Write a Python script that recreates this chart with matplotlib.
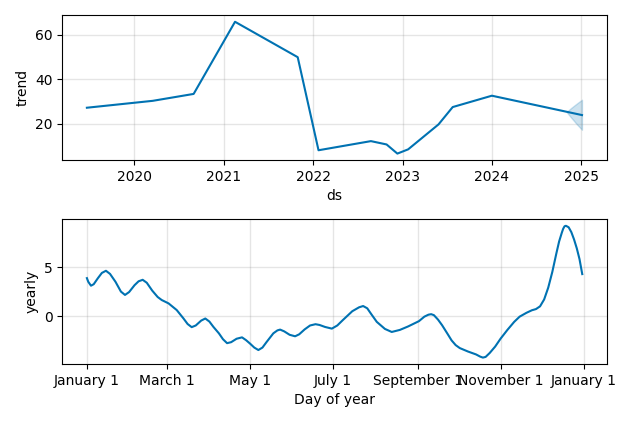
import numpy as np
import pandas as pd
import matplotlib
matplotlib.use('Agg')
import matplotlib.pyplot as plt
import matplotlib.dates as mdates

# trend component (changepoints)
trend_dates = ['2019-06-22', '2020-03-17', '2020-08-31', '2021-02-16', '2021-10-30',
               '2022-01-23', '2022-08-25', '2022-10-28', '2022-12-11', '2023-01-24',
               '2023-05-28', '2023-07-25', '2024-01-01', '2025-01-03']
trend_vals = [27.2, 30.3, 33.4, 65.8, 49.9,
              8.1, 12.2, 10.7, 6.6, 8.5,
              19.7, 27.5, 32.6, 23.9]

# forecast uncertainty of the trend
band_dates = ['2024-11-01', '2024-11-21', '2024-12-12', '2025-01-03']
band_upper = [25.3, 27.2, 29.0, 30.8]
band_lower = [25.3, 22.6, 19.9, 17.3]

# yearly seasonality (day of year -> value)
year_days = [0, 1, 3, 5, 8, 11, 14, 17, 21, 25, 28, 31, 35, 38, 41, 44, 48, 52,
             55, 60, 66, 71, 74, 77, 80, 84, 87, 90, 93, 97, 100, 103, 106, 110,
             114, 117, 120, 123, 126, 129, 132, 137, 140, 142, 145, 149, 153, 156,
             160, 164, 168, 171, 175, 180, 184, 188, 195, 200, 203, 206, 209, 213,
             219, 224, 230, 236, 244, 248, 251, 253, 255, 258, 261, 265, 268, 271,
             274, 280, 286, 289, 291, 293, 296, 300, 304, 309, 314, 318, 323, 327,
             330, 333, 336, 339, 342, 345, 347, 349, 350, 351, 352, 354, 356, 358,
             360, 362, 364]
yearly_vals = [3.87, 3.5, 3.1, 3.25, 3.85, 4.4, 4.62, 4.3, 3.5, 2.5, 2.16, 2.45,
               3.15, 3.55, 3.70, 3.4, 2.6, 1.95, 1.64, 1.30, 0.62, -0.24, -0.8,
               -1.12, -0.95, -0.45, -0.24, -0.55, -1.1, -1.75, -2.35, -2.75, -2.65,
               -2.3, -2.16, -2.45, -2.81, -3.2, -3.45, -3.2, -2.64, -1.75, -1.45,
               -1.37, -1.55, -1.9, -2.05, -1.85, -1.35, -0.95, -0.82, -0.9, -1.1,
               -1.27, -0.95, -0.41, 0.5, 0.9, 1.03, 0.8, 0.2, -0.58, -1.3, -1.61,
               -1.4, -1.05, -0.51, -0.05, 0.15, 0.2, 0.1, -0.35, -0.92, -1.8, -2.47,
               -2.95, -3.25, -3.6, -3.9, -4.12, -4.22, -4.15, -3.75, -3.1, -2.29,
               -1.4, -0.58, -0.05, 0.34, 0.6, 0.72, 1.0, 1.7, 2.9, 4.5, 6.4, 7.6,
               8.5, 8.9, 9.15, 9.2, 9.05, 8.55, 7.8, 6.9, 5.8, 4.28]

color = '#0072B2'

fig, (ax1, ax2) = plt.subplots(2, 1, figsize=(6.34, 4.22), dpi=100)
fig.subplots_adjust(left=0.098, right=0.957, top=0.964, bottom=0.137, hspace=0.407)

# trend
ax1.plot(pd.to_datetime(trend_dates), trend_vals, ls='-', c=color)
ax1.fill_between(pd.to_datetime(band_dates), band_lower, band_upper, color=color, alpha=0.2)
ax1.xaxis.set_major_locator(mdates.YearLocator())
ax1.xaxis.set_major_formatter(mdates.DateFormatter('%Y'))
ax1.grid(True, which='major', c='gray', ls='-', lw=1, alpha=0.2)
ax1.set_xlabel('ds')
ax1.set_ylabel('trend')

# yearly
days = pd.Timestamp('2017-01-01') + pd.to_timedelta(year_days, unit='D')
ax2.plot(days, yearly_vals, ls='-', c=color)
ax2.xaxis.set_major_locator(mdates.MonthLocator(bymonth=[1, 3, 5, 7, 9, 11]))
ax2.xaxis.set_major_formatter(mdates.DateFormatter('%B %-d'))
ax2.set_xlim(pd.Timestamp('2017-01-01') - pd.Timedelta(days=18.2),
             pd.Timestamp('2017-01-01') + pd.Timedelta(days=382))
ax2.grid(True, which='major', c='gray', ls='-', lw=1, alpha=0.2)
ax2.set_xlabel('Day of year')
ax2.set_ylabel('yearly')

plt.savefig('out.png')
